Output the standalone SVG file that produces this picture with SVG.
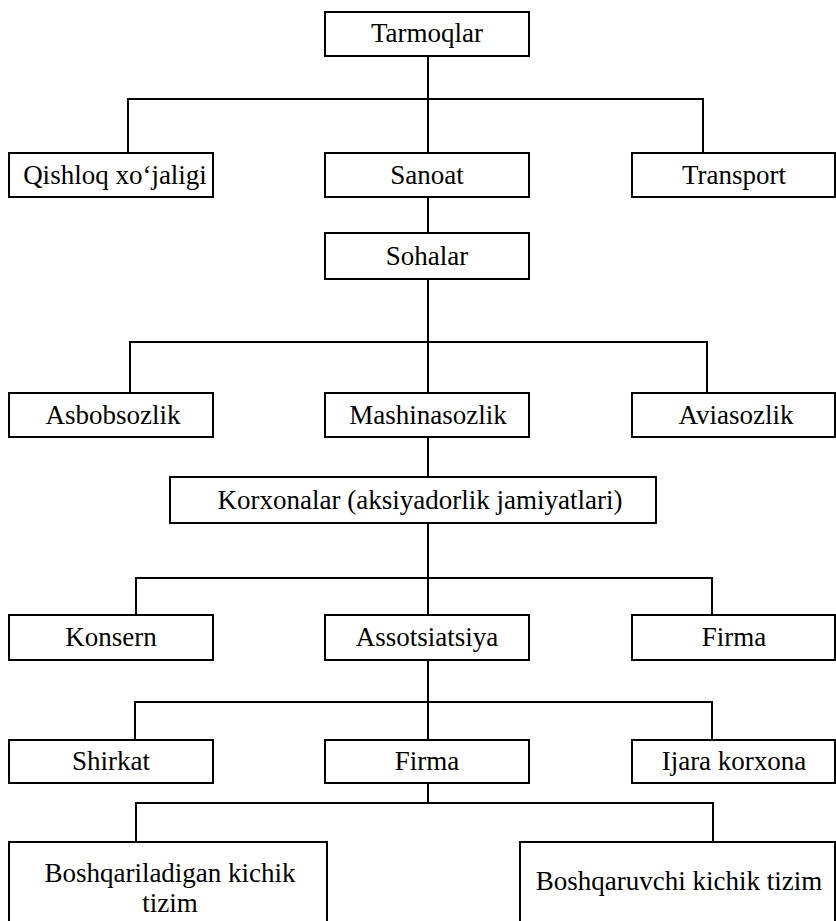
<svg xmlns="http://www.w3.org/2000/svg" width="836" height="921" viewBox="0 0 836 921">
<style>
  .box{fill:#fff;stroke:#000;stroke-width:2}
  .lbl{font-family:"Liberation Serif","Times New Roman",serif;font-size:27px;fill:#000;text-anchor:middle}
  .con{fill:none;stroke:#000;stroke-width:2}
</style>
<rect width="836" height="921" fill="#fff"/>
<g id="connectors">
  <path class="con" d="M428 56 V153"/>
  <path class="con" d="M128 153 V99 H703 V153"/>
  <path class="con" d="M428 197 V233"/>
  <path class="con" d="M428 279 V393"/>
  <path class="con" d="M130 393 V342 H707 V393"/>
  <path class="con" d="M428 437 V477"/>
  <path class="con" d="M428 523 V615"/>
  <path class="con" d="M136 615 V578 H712 V615"/>
  <path class="con" d="M428 660 V740"/>
  <path class="con" d="M135 740 V702 H712 V740"/>
  <path class="con" d="M428 783 V803"/>
  <path class="con" d="M136 842 V803 H713 V842"/>
</g>
<g id="tarmoqlar"><rect class="box" x="325" y="12" width="204" height="44"/><text class="lbl" x="427" y="42">Tarmoqlar</text></g>
<g id="qishloq"><rect class="box" x="9" y="153" width="204" height="44"/><text class="lbl" x="115" y="184">Qishloq xo‘jaligi</text></g>
<g id="sanoat"><rect class="box" x="325" y="153" width="204" height="44"/><text class="lbl" x="427" y="184">Sanoat</text></g>
<g id="transport"><rect class="box" x="632" y="153" width="203" height="44"/><text class="lbl" x="734" y="184">Transport</text></g>
<g id="sohalar"><rect class="box" x="325" y="233" width="204" height="46"/><text class="lbl" x="427" y="265">Sohalar</text></g>
<g id="asbobsozlik"><rect class="box" x="9" y="393" width="204" height="44"/><text class="lbl" x="113" y="424">Asbobsozlik</text></g>
<g id="mashinasozlik"><rect class="box" x="325" y="393" width="204" height="44"/><text class="lbl" x="428" y="424">Mashinasozlik</text></g>
<g id="aviasozlik"><rect class="box" x="632" y="393" width="203" height="44"/><text class="lbl" x="736" y="424">Aviasozlik</text></g>
<g id="korxonalar"><rect class="box" x="170" y="477" width="486" height="46"/><text class="lbl" x="420" y="509">Korxonalar (aksiyadorlik jamiyatlari)</text></g>
<g id="konsern"><rect class="box" x="9" y="615" width="204" height="45"/><text class="lbl" x="111" y="646">Konsern</text></g>
<g id="assotsiatsiya"><rect class="box" x="325" y="615" width="204" height="45"/><text class="lbl" x="427" y="646">Assotsiatsiya</text></g>
<g id="firma1"><rect class="box" x="632" y="615" width="203" height="45"/><text class="lbl" x="734" y="646">Firma</text></g>
<g id="shirkat"><rect class="box" x="9" y="740" width="204" height="43"/><text class="lbl" x="111" y="770">Shirkat</text></g>
<g id="firma2"><rect class="box" x="325" y="740" width="204" height="43"/><text class="lbl" x="427" y="770">Firma</text></g>
<g id="ijara"><rect class="box" x="632" y="740" width="203" height="43"/><text class="lbl" x="734" y="770">Ijara korxona</text></g>
<g id="boshqariladigan"><rect class="box" x="9" y="842" width="318" height="90"/><text class="lbl" x="170" y="882">Boshqariladigan kichik</text><text class="lbl" x="170" y="912">tizim</text></g>
<g id="boshqaruvchi"><rect class="box" x="520" y="842" width="315" height="90"/><text class="lbl" x="679" y="890">Boshqaruvchi kichik tizim</text></g>
</svg>
